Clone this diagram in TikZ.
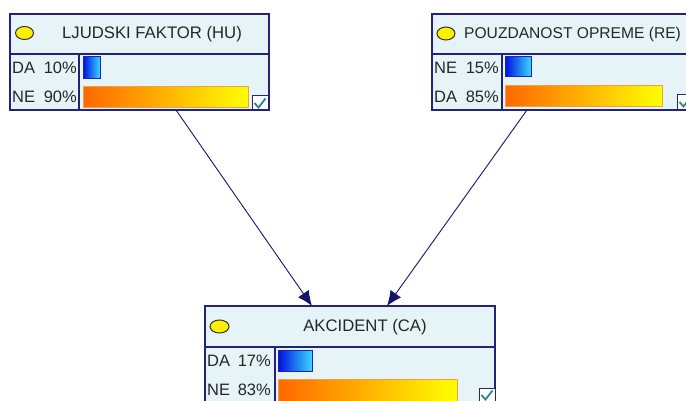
\documentclass[tikz,border=0pt]{standalone}
\usepackage{fontspec}
\setmainfont{Liberation Sans}
\usetikzlibrary{arrows.meta,calc}
\definecolor{boxfill}{HTML}{E6F4F7}
\definecolor{navy}{HTML}{23237A}
\definecolor{arrowc}{HTML}{14146E}
\definecolor{txt}{HTML}{262626}
\definecolor{blueL}{HTML}{0010E0}
\definecolor{blueR}{HTML}{38D8FF}
\definecolor{blueB}{HTML}{2020B8}
\definecolor{orL}{HTML}{FF6800}
\definecolor{orR}{HTML}{FFFF00}
\definecolor{orB}{HTML}{EFA040}
\definecolor{chk}{HTML}{2A8A8A}
\definecolor{ell}{HTML}{FFF000}
\tikzset{
  bnbox/.style={draw=navy, fill=boxfill, line width=1.3pt, rectangle, anchor=north west, inner sep=0pt, outer sep=0pt},
  sep/.style={draw=navy, line width=1.3pt},
  ttl/.style={text=txt, font=\fontsize{16.7}{19}\selectfont, inner sep=0pt},
  lbl/.style={text=txt, font=\fontsize{16.5}{19}\selectfont, inner sep=0pt},
  bluebar/.style={left color=blueL, right color=blueR, draw=blueB, line width=1pt},
  orbar/.style={left color=orL, right color=orR, draw=orB, line width=1pt},
  chkbox/.style={draw=navy, fill=white, line width=1pt},
  chkmark/.style={draw=chk, line width=1.8pt},
  yel/.style={draw=black!80, fill=ell, line width=1pt},
  link/.style={draw=arrowc, line width=0.9pt, -{Latex[length=15pt,width=13pt]}}
}
\begin{document}
\begin{tikzpicture}[x=1pt,y=-1pt]
\useasboundingbox (0,0) rectangle (686,401);
\clip (0,0) rectangle (686,401);

% ---------- Box HU ----------
\node[bnbox, minimum width=259pt, minimum height=96pt] (hu) at (10,14) {};
\draw[sep] (10,54) -- (269,54);
\draw[sep] (79,54) -- (79,110);
\draw[yel] (24.5,33) ellipse [x radius=9, y radius=6.5];
\node[ttl] (huT) at (152,34) {LJUDSKI FAKTOR (HU)};
\node[lbl, anchor=west] (huL1) at (12,68) {DA};
\node[lbl, anchor=east] (huP1) at (77,68) {10\%};
\node[lbl, anchor=west] (huL2) at (12,97) {NE};
\node[lbl, anchor=east] (huP2) at (77,97) {90\%};
\draw[bluebar] (83,57) rectangle (100,79);
\draw[orbar] (83,87) rectangle (248,108);
\draw[chkbox] (252,96) rectangle (268,110);
\draw[chkmark] (254.5,103) -- (258.5,107.5) -- (265.5,98.5);

% ---------- Box RE ----------
\node[bnbox, minimum width=280pt, minimum height=96pt] (re) at (432,14) {};
\draw[sep] (432,54) -- (712,54);
\draw[sep] (502,54) -- (502,110);
\draw[yel] (446,33.5) ellipse [x radius=9, y radius=6.5];
\node[ttl, anchor=west, font=\fontsize{15.6}{19}\selectfont] (reT) at (464,34) {POUZDANOST OPREME (RE)};
\node[lbl, anchor=west] (reL1) at (434,68) {NE};
\node[lbl, anchor=east] (reP1) at (499,68) {15\%};
\node[lbl, anchor=west] (reL2) at (434,97) {DA};
\node[lbl, anchor=east] (reP2) at (499,97) {85\%};
\draw[bluebar] (505,57) rectangle (531,77);
\draw[orbar] (505,86) rectangle (662,107);
\draw[chkbox] (677,95) rectangle (693,110);
\draw[chkmark] (679.5,102) -- (683.5,106.5) -- (690.5,97.5);

% ---------- Box CA ----------
\node[bnbox, minimum width=290pt, minimum height=120pt] (ca) at (205,306) {};
\draw[sep] (205,347) -- (495,347);
\draw[sep] (275,347) -- (275,426);
\draw[yel] (219.5,326.5) ellipse [x radius=9.5, y radius=6.5];
\node[ttl] (caT) at (365,327) {AKCIDENT (CA)};
\node[lbl, anchor=west] (caL1) at (207,361) {DA};
\node[lbl, anchor=east] (caP1) at (271,361) {17\%};
\node[lbl, anchor=west] (caL2) at (207,390) {NE};
\node[lbl, anchor=east] (caP2) at (271,390) {83\%};
\draw[bluebar] (278,350) rectangle (312,371);
\draw[orbar] (278,379) rectangle (457,402);
\draw[chkbox] (479,388) rectangle (495,403);
\draw[chkmark] (481.5,395) -- (485.5,399.5) -- (492.5,390.5);

% ---------- Links ----------
\coordinate (huOut) at ($(hu.south west)+(166,0)$);
\coordinate (reOut) at ($(re.south west)+(95,0)$);
\coordinate (caIn1) at ($(ca.north west)+(107,0)$);
\coordinate (caIn2) at ($(ca.north west)+(182,0)$);
\draw[link] (huOut) -- (caIn1);
\draw[link] (reOut) -- (caIn2);
\end{tikzpicture}
\end{document}
